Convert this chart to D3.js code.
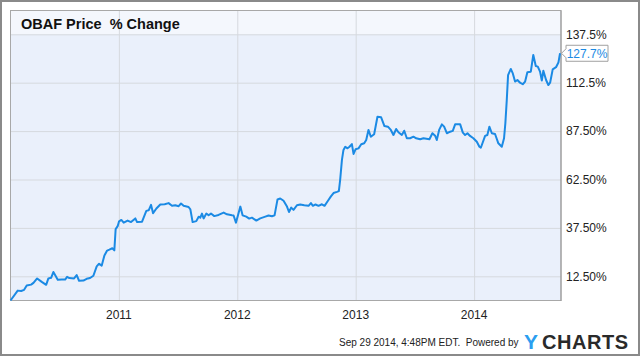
<!DOCTYPE html>
<html><head><meta charset="utf-8">
<script src="https://cdn.jsdelivr.net/npm/d3@7"></script>
<style>
html,body{margin:0;padding:0;background:#fff;}
svg{display:block;font-family:"Liberation Sans",Arial,sans-serif;}
</style></head>
<body>
<svg id="chart" width="640" height="356"></svg>
<script>
const titleText = "OBAF Price  % Change";
const yearTicks = [2011, 2012, 2013, 2014];
const yearLabels = ["2011", "2012", "2013", "2014"];
const pctTicks = [12.5, 37.5, 62.5, 87.5, 112.5, 137.5];
const pctLabels = ["12.50%", "37.50%", "62.50%", "87.50%", "112.5%", "137.5%"];
const lastLabel = "127.7%";
const footerText = "Sep 29 2014, 4:48PM EDT.  Powered by";

const dates = [2010.089,2010.150,2010.179,2010.204,2010.226,2010.263,2010.283,2010.314,2010.353,2010.390,
2010.409,2010.432,2010.451,2010.468,2010.488,2010.522,2010.550,2010.567,2010.586,2010.626,
2010.648,2010.668,2010.705,2010.732,2010.761,2010.789,2010.817,2010.837,2010.859,2010.882,
2010.905,2010.924,2010.949,2010.966,2010.977,2010.994,2011.006,2011.025,2011.045,2011.078,
2011.107,2011.143,2011.158,2011.200,2011.236,2011.256,2011.276,2011.293,2011.321,2011.354,
2011.391,2011.424,2011.453,2011.481,2011.509,2011.529,2011.551,2011.593,2011.608,2011.627,
2011.658,2011.678,2011.692,2011.706,2011.720,2011.743,2011.762,2011.782,2011.810,2011.846,
2011.889,2011.917,2011.959,2011.973,2011.993,2012.030,2012.049,2012.080,2012.105,2012.128,
2012.165,2012.198,2012.241,2012.268,2012.297,2012.319,2012.344,2012.367,2012.395,2012.424,
2012.441,2012.460,2012.479,2012.508,2012.536,2012.570,2012.606,2012.626,2012.643,2012.665,
2012.690,2012.719,2012.741,2012.770,2012.795,2012.817,2012.846,2012.862,2012.873,2012.888,
2012.901,2012.916,2012.935,2012.952,2012.972,2012.986,2013.003,2013.028,2013.051,2013.076,
2013.093,2013.112,2013.132,2013.160,2013.188,2013.219,2013.247,2013.276,2013.301,2013.323,
2013.346,2013.365,2013.394,2013.414,2013.436,2013.464,2013.492,2013.515,2013.549,2013.576,
2013.627,2013.652,2013.675,2013.689,2013.709,2013.732,2013.751,2013.774,2013.802,2013.824,
2013.844,2013.886,2013.909,2013.928,2013.948,2013.970,2013.998,2014.027,2014.049,2014.061,
2014.097,2014.116,2014.133,2014.154,2014.181,2014.209,2014.238,2014.257,2014.268,2014.280,
2014.291,2014.314,2014.331,2014.350,2014.370,2014.392,2014.415,2014.435,2014.454,2014.483,
2014.504,2014.525,2014.542,2014.561,2014.576,2014.589,2014.612,2014.631,2014.646,2014.668,
2014.696,2014.716,2014.730];

const pctChange = [0,5.1,4.9,5.5,7.7,8.2,9.1,11.4,9.6,8.1,
11.4,11.7,14.7,12.9,10.7,10.8,10.8,12.2,11.6,11.4,
13.1,10.2,10.3,11.2,11.6,12.8,17.6,19.0,18.0,23.2,
25.8,26.3,27.0,25.9,36.9,38.4,40.9,41.6,40.2,41.3,
40.5,42.4,40.5,40.7,46.3,46.6,49.4,45.1,47.5,49.6,
49.7,50.3,48.9,49.2,48.7,50.1,48.9,48.3,47.1,40.5,
41.0,43.3,42.8,44.9,42.4,44.9,44.0,44.9,43.6,44.2,
45.4,44.5,44.0,43.9,40.2,48.5,44.0,43.3,42.3,42.8,
41.3,42.4,43.3,43.9,43.5,44.0,52.2,52.7,51.5,48.5,
45.7,48.0,46.8,49.2,49.6,49.2,48.9,50.3,48.9,49.6,
48.9,49.7,48.9,51.5,53.8,55.5,56.1,56.5,62.3,72.6,
77.8,79.4,78.6,79.4,80.8,75.7,78.1,78.6,80.7,81.2,
82.9,88.1,84.6,85.9,94.9,94.6,90.1,89.8,88.1,85.5,
88.6,86.9,85.5,87.7,83.8,83.8,84.6,83.8,83.3,83.8,
83.3,86.4,85.1,82.9,88.1,91.0,89.8,86.4,87.2,87.6,
91.0,91.1,86.7,85.5,86.4,85.0,83.8,82.0,79.4,78.9,
85.0,85.5,89.8,86.4,86.0,81.2,79.4,83.8,91.5,103.5,
116.4,119.6,117.3,113.1,113.9,112.5,111.7,113.1,117.9,118.2,
126.8,121.1,120.8,118.2,113.6,118.7,113.9,111.3,112.5,119.4,
120.5,122.9,127.7];

const svg = d3.select("#chart");
const L = 10.5, R = 561, T = 10.5, B = 300.5, bandBottom = 34.3;

const x = d3.scaleLinear().domain([2010.089, 2014.738]).range([L, R]);
const y = d3.scaleLinear().domain([0, 137.5]).range([B, bandBottom]);

// outer frame
svg.append("rect").attr("x", 1).attr("y", 1).attr("width", 638).attr("height", 354)
  .attr("fill", "#fff").attr("stroke", "#8a8a8a").attr("stroke-width", 2);

// title band and plot area
svg.append("rect").attr("x", L).attr("y", T).attr("width", R - L).attr("height", bandBottom - T)
  .attr("fill", "#f4f7fd");
svg.append("rect").attr("x", L).attr("y", bandBottom).attr("width", R - L).attr("height", B - bandBottom)
  .attr("fill", "#eaf0fb");

// vertical grid
svg.append("g").attr("transform", `translate(0,${B})`)
  .call(d3.axisBottom(x).tickValues(yearTicks).tickSize(-(B - T)).tickFormat(""))
  .call(g => g.select(".domain").remove())
  .call(g => g.selectAll("line").attr("stroke", "#d6d9de").attr("stroke-width", 1)
    .attr("transform", "translate(0.5,0)"));

// horizontal grid
svg.append("g").attr("transform", `translate(${L},0)`)
  .call(d3.axisRight(y).tickValues(pctTicks).tickSize(R - L).tickFormat(""))
  .call(g => g.select(".domain").remove())
  .call(g => g.selectAll("line").attr("stroke", "#d6d9de").attr("stroke-width", 1));

// panel border
svg.append("rect").attr("x", L).attr("y", T).attr("width", R - L).attr("height", B - T)
  .attr("fill", "none").attr("stroke", "#a8a8a8").attr("stroke-width", 1);
svg.append("line").attr("x1", R).attr("x2", R).attr("y1", T).attr("y2", B + 0.5)
  .attr("stroke", "#999").attr("stroke-width", 1);

// title
svg.append("text").attr("x", 21).attr("y", 28.5).attr("font-size", 14.5).attr("font-weight", "bold")
  .attr("fill", "#111").style("white-space", "pre").text(titleText);

// x labels
const xAxis = svg.append("g").attr("transform", `translate(0,${B})`)
  .call(d3.axisBottom(x).tickValues(yearTicks).tickSize(0).tickPadding(10)
    .tickFormat((d, i) => yearLabels[i]));
xAxis.select(".domain").remove();
xAxis.selectAll("text").attr("font-size", 12).attr("fill", "#222")
  .attr("font-family", "Liberation Sans, Arial, sans-serif");

// y labels
const yAxis = svg.append("g").attr("transform", `translate(${R},0)`)
  .call(d3.axisRight(y).tickValues(pctTicks).tickSize(0).tickPadding(5)
    .tickFormat((d, i) => pctLabels[i]));
yAxis.select(".domain").remove();
yAxis.selectAll("text").attr("font-size", 12).attr("fill", "#222")
  .attr("font-family", "Liberation Sans, Arial, sans-serif");

// line
const pts = dates.map((d, i) => [d, pctChange[i]]);
const line = d3.line().x(d => x(d[0])).y(d => y(d[1]));
svg.append("path").datum(pts).attr("d", line).attr("fill", "none")
  .attr("stroke", "#1b8ae4").attr("stroke-width", 2).attr("stroke-linejoin", "round");

// last value callout
const ly = y(pctChange[pctChange.length - 1]);
const bx = 566, bw = 42, bh = 16;
svg.append("path")
  .attr("d", `M${bx},${ly - bh / 2} H${bx + bw} V${ly + bh / 2} H${bx} V${ly + 4.5} L${R + 0.5},${ly} L${bx},${ly - 4.5} Z`)
  .attr("fill", "#fff").attr("stroke", "#a0a0a0").attr("stroke-width", 1);
svg.append("text").attr("x", bx + bw / 2).attr("y", ly + 4.3).attr("text-anchor", "middle")
  .attr("font-size", 12).attr("fill", "#1b8ae4").text(lastLabel);

// footer
svg.append("text").attr("x", 339).attr("y", 345.5).attr("font-size", 10).attr("fill", "#222")
  .style("white-space", "pre").text(footerText);
svg.append("text").attr("x", 524).attr("y", 348.5).attr("font-size", 21).attr("font-weight", "bold")
  .attr("fill", "#2b9ef0").text("Y");
svg.append("text").attr("x", 542).attr("y", 348.5).attr("font-size", 20).attr("font-weight", "bold")
  .attr("fill", "#2a2a2a").attr("textLength", 86).attr("lengthAdjust", "spacing").text("CHARTS");
</script>
</body></html>
